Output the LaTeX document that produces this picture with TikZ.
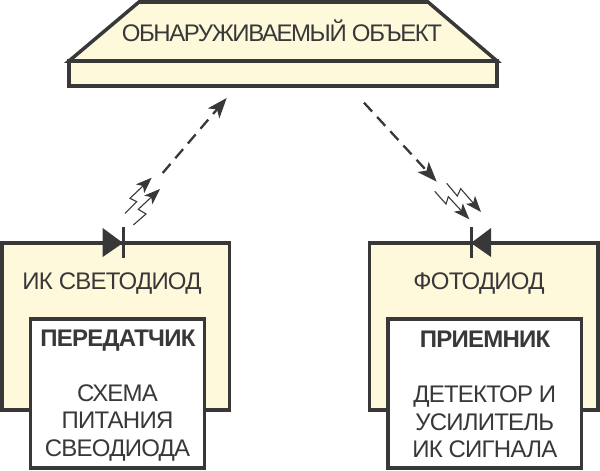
\documentclass[tikz,border=0pt]{standalone}
\usepackage{fontspec}
\setmainfont{Liberation Sans}
\usetikzlibrary{arrows.meta}
\definecolor{ink}{HTML}{383838}
\definecolor{cream}{HTML}{FFF9DC}
\tikzset{
  x=1pt,y=-1pt,
  panel/.style={draw=ink,fill=cream,line width=3.5pt,inner sep=0pt,outer sep=0pt,anchor=north west},
  whitebox/.style={draw=ink,fill=white,line width=3.5pt,inner sep=0pt,outer sep=0pt,anchor=north west,align=center,text=ink,font=\fontsize{24}{27.5}\selectfont\addfontfeature{LetterSpace=-3.2}},
  label/.style={text=ink,inner sep=0pt,anchor=base,font=\fontsize{24}{27.5}\selectfont\addfontfeature{LetterSpace=-3.2}},
  objlabelstyle/.style={text=ink,inner sep=0pt,anchor=base,font=\fontsize{24}{27.5}\selectfont\addfontfeature{LetterSpace=-6}},
  beam/.style={draw=ink,line width=2.3pt,dash pattern=on 12pt off 7.4pt,-{Stealth[length=20pt,width=15pt,inset=5pt]}},
  spark/.style={draw=ink,line width=1.1pt,-{Stealth[length=16pt,width=12pt,inset=4pt]}},
  diodebar/.style={draw=ink,line width=3pt},
  diodetri/.style={fill=ink,draw=none}
}
\begin{document}
\begin{tikzpicture}
\useasboundingbox (0,0) rectangle (600,471);
% object
\draw[draw=ink,fill=cream,line width=3.5pt,line join=miter] (69,61) -- (139,2) -- (428,2) -- (497,61) -- cycle;
\node[panel,minimum width=428pt,minimum height=25pt] (strip) at (69,61) {};
\node[objlabelstyle] (objlabel) at (282,41) {ОБНАРУЖИВАЕМЫЙ ОБЪЕКТ};
% left unit
\node[panel,minimum width=227.5pt,minimum height=167pt] (ledbox) at (2,243) {};
\node[label] (ledlabel) at (112,289.5) {ИК СВЕТОДИОД};
\node[whitebox,minimum width=174pt,minimum height=149pt] (tx) at (30.5,319)
  {\rule{0pt}{20.5pt}\textbf{ПЕРЕДАТЧИК}\\[27.5pt]СХЕМА\\ПИТАНИЯ\\СВЕОДИОДА};
% right unit
\node[panel,minimum width=228.5pt,minimum height=167pt] (pdbox) at (369.5,243) {};
\node[label] (pdlabel) at (479,289.5) {ФОТОДИОД};
\node[whitebox,minimum width=193.5pt,minimum height=149pt] (rx) at (388,319)
  {\rule{0pt}{19pt}\textbf{ПРИЕМНИК}\\[27.5pt]ДЕТЕКТОР И\\УСИЛИТЕЛЬ\\ИК СИГНАЛА};
% diodes
\fill[diodetri] (102.7,228) -- (102.7,257) -- (123,243) -- cycle;
\draw[diodebar] (123,227) -- (123,258);
\fill[diodetri] (491,228) -- (491,257) -- (471,243) -- cycle;
\draw[diodebar] (471,227) -- (471,258);
% beams
\coordinate (b1s) at (162.7,173); \coordinate (b1e) at (226.7,98);
\coordinate (b2s) at (364,102.7); \coordinate (b2e) at (436.7,181.7);
\draw[beam] (b1s) -- (b1e);
\draw[beam] (b2s) -- (b2e);
% sparks
\draw[spark] (125,213.3) -- (136.7,201.7) -- (130,198.3) -- (151.7,177.7);
\draw[spark] (133.3,225) -- (146,214) -- (138.3,209.3) -- (160,189);
\draw[spark] (446.7,183.3) -- (457.3,196) -- (460.7,188.7) -- (481,212);
\draw[spark] (434.7,191.3) -- (446,204) -- (448.3,196.7) -- (469.3,219.3);
\end{tikzpicture}
\end{document}
